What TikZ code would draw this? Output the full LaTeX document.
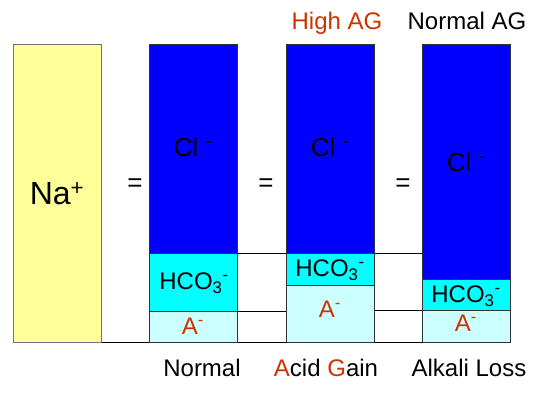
\documentclass[tikz,border=0pt]{standalone}
\usepackage{fontspec}
\setmainfont{Liberation Sans}
\definecolor{naY}{HTML}{FFFF99}
\definecolor{clB}{HTML}{0000FF}
\definecolor{hcC}{HTML}{00FFFF}
\definecolor{aL}{HTML}{CCFFFF}
\definecolor{txR}{HTML}{CC3300}
\begin{document}
\begin{tikzpicture}[x=1pt,y=-1pt,
  seg/.style={draw=black!80, line width=0.9pt, inner sep=0pt, anchor=north west, minimum width=88pt},
  lbl/.style={font=\fontsize{24}{27}\selectfont, anchor=base, inner sep=0pt},
  cl/.style={font=\fontsize{26}{30}\selectfont, anchor=base, inner sep=0pt},
  ion/.style={font=\fontsize{24}{28}\selectfont, anchor=base, inner sep=0pt},
  eq/.style={font=\fontsize{26}{30}\selectfont, inner sep=0pt},
  conn/.style={draw=black, line width=0.9pt}]
\useasboundingbox (0,0) rectangle (560,395);
% Na box
\node[seg, draw=black!55, fill=naY, minimum height=298pt] (na) at (13,44) {};
% box 1 Normal
\node[seg, fill=clB, minimum height=209pt] (b1) at (149,44) {};
\node[seg, fill=hcC, minimum height=58pt] (h1) at (149,253) {};
\node[seg, fill=aL, minimum height=31pt] (a1) at (149,311) {};
% box 2 Acid gain
\node[seg, fill=clB, minimum height=209pt] (b2) at (286,44) {};
\node[seg, fill=hcC, minimum height=32pt] (h2) at (286,253) {};
\node[seg, fill=aL, minimum height=57pt] (a2) at (286,285) {};
% box 3 Alkali loss
\node[seg, fill=clB, minimum height=235pt] (b3) at (422,44) {};
\node[seg, fill=hcC, minimum height=31pt] (h3) at (422,279) {};
\node[seg, fill=aL, minimum height=32pt] (a3) at (422,310) {};
% connectors
\draw[conn] (h1.north east) -- (h1.north east -| b2.west);
\draw[conn] (h2.north east) -- (h2.north east -| b3.west);
\draw[conn] (a1.north east) -- (a1.north east -| a2.west);
\draw[conn] (a3.north west -| a2.east) -- (a3.north west);
\draw[conn] (na.south east) -- (a1.south west);
\draw[conn] (a1.south east) -- (a2.south west);
\draw[conn] (a2.south east) -- (a3.south west);
% texts
\node[font=\fontsize{32}{36}\selectfont, anchor=base, inner sep=0pt] (tna) at (57,205) {Na\textsuperscript{+}};
\node[eq] (e1) at (135,185) {=};
\node[eq] (e2) at (266,185) {=};
\node[eq] (e3) at (403,185) {=};
\node[cl] (c1) at (193,157) {Cl \textsuperscript{-}};
\node[cl] (c2) at (330,157) {Cl \textsuperscript{-}};
\node[cl] (c3) at (466,172) {Cl \textsuperscript{-}};
\node[ion] (t1) at (194,290) {HCO\textsubscript{3}\textsuperscript{-}};
\node[ion] (t2) at (330,277) {HCO\textsubscript{3}\textsuperscript{-}};
\node[ion] (t3) at (466,303) {HCO\textsubscript{3}\textsuperscript{-}};
\node[ion, text=txR] (x1) at (193,335) {A\textsuperscript{-}};
\node[ion, text=txR] (x2) at (330,318) {A\textsuperscript{-}};
\node[ion, text=txR] (x3) at (466,332) {A\textsuperscript{-}};
\node[lbl] (l1) at (202,377) {Normal};
\node[lbl] (l2) at (326,377) {\textcolor{txR}{A}cid \textcolor{txR}{G}ain};
\node[lbl] (l3) at (469,377) {Alkali Loss};
\node[lbl, text=txR] (g1) at (337,30) {High AG};
\node[lbl] (g2) at (467,30) {Normal AG};
\end{tikzpicture}
\end{document}
